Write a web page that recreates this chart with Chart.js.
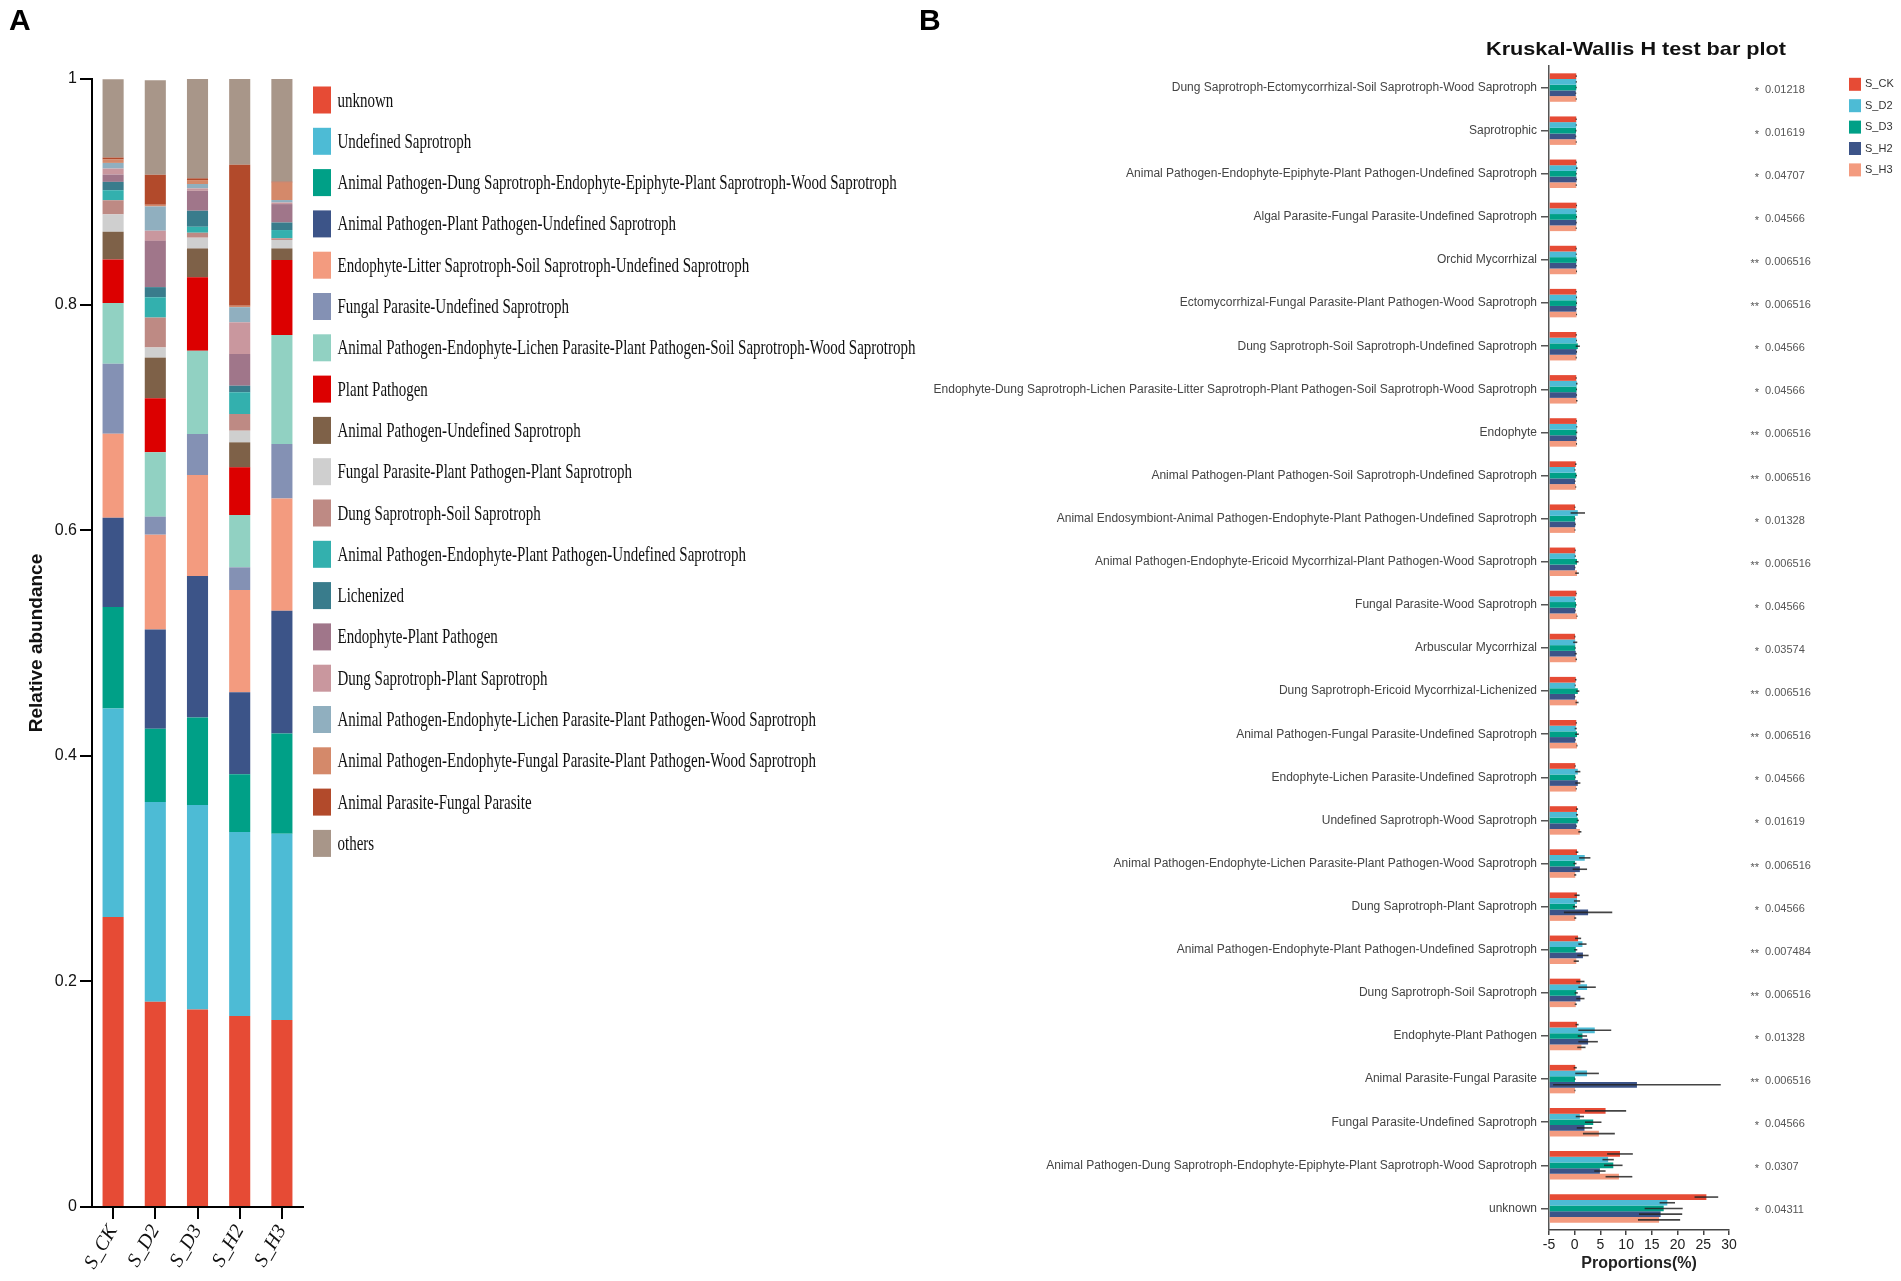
<!DOCTYPE html>
<html>
<head>
<meta charset="utf-8">
<script src="https://cdn.jsdelivr.net/npm/chart.js@4.4.1/dist/chart.umd.min.js"></script>
<style>
  html, body { margin: 0; padding: 0; background: #fff; }
  body { width: 1901px; height: 1281px; position: relative; overflow: hidden; }
  #boxA { position: absolute; left: 0; top: 0; width: 940px; height: 1281px; }
  #boxB { position: absolute; left: 900px; top: 0; width: 1001px; height: 1281px; }
  .tag { position: absolute; font: bold 30px "Liberation Sans", Arial, sans-serif; color: #000; }
</style>
</head>
<body>
<div id="boxA"><canvas id="chartA"></canvas></div>
<div id="boxB"><canvas id="chartB"></canvas></div>
<div class="tag" style="left:9px;top:3px">A</div>
<div class="tag" style="left:919px;top:3px">B</div>
<script>
// ---- panel A: relative abundance of guilds ----
const samples = ['S_CK', 'S_D2', 'S_D3', 'S_H2', 'S_H3'];

const guilds = [
  'unknown',
  'Undefined Saprotroph',
  'Animal Pathogen-Dung Saprotroph-Endophyte-Epiphyte-Plant Saprotroph-Wood Saprotroph',
  'Animal Pathogen-Plant Pathogen-Undefined Saprotroph',
  'Endophyte-Litter Saprotroph-Soil Saprotroph-Undefined Saprotroph',
  'Fungal Parasite-Undefined Saprotroph',
  'Animal Pathogen-Endophyte-Lichen Parasite-Plant Pathogen-Soil Saprotroph-Wood Saprotroph',
  'Plant Pathogen',
  'Animal Pathogen-Undefined Saprotroph',
  'Fungal Parasite-Plant Pathogen-Plant Saprotroph',
  'Dung Saprotroph-Soil Saprotroph',
  'Animal Pathogen-Endophyte-Plant Pathogen-Undefined Saprotroph',
  'Lichenized',
  'Endophyte-Plant Pathogen',
  'Dung Saprotroph-Plant Saprotroph',
  'Animal Pathogen-Endophyte-Lichen Parasite-Plant Pathogen-Wood Saprotroph',
  'Animal Pathogen-Endophyte-Fungal Parasite-Plant Pathogen-Wood Saprotroph',
  'Animal Parasite-Fungal Parasite',
  'others'
];

const guildColors = [
  '#E64B35', '#4DBBD5', '#00A087', '#3C5488', '#F39B7F', '#8491B4', '#91D1C2',
  '#DC0000', '#7E6148', '#CFCFCF', '#BE8A84', '#33B0AE', '#397C8C', '#A0768A',
  '#C9979E', '#90AFBF', '#D4896A', '#B24A2B', '#A89689'
];

// one value per guild, in guild order
const abundCK = [0.257, 0.185, 0.090, 0.079, 0.0745, 0.062, 0.054, 0.0385, 0.0246, 0.0154, 0.0125, 0.0089, 0.0074, 0.0065, 0.0053, 0.0050, 0.0030, 0.0018, 0.0694];
const abundD2 = [0.182, 0.177, 0.065, 0.088, 0.084, 0.016, 0.057, 0.048, 0.036, 0.009, 0.0265, 0.018, 0.009, 0.041, 0.009, 0.0215, 0.0015, 0.0266, 0.0839];
const abundD3 = [0.175, 0.1814, 0.0775, 0.1255, 0.0895, 0.0364, 0.0738, 0.0651, 0.0256, 0.0095, 0.0044, 0.0053, 0.0142, 0.0177, 0.0021, 0.0039, 0.0035, 0.0015, 0.0881];
const abundH2 = [0.1693, 0.1632, 0.0511, 0.0727, 0.0907, 0.0201, 0.0464, 0.0422, 0.0222, 0.0103, 0.0148, 0.0193, 0.0058, 0.0281, 0.0281, 0.0134, 0.0013, 0.1249, 0.0762];
const abundH3 = [0.1658, 0.1652, 0.0887, 0.1088, 0.0997, 0.0483, 0.0966, 0.0664, 0.0103, 0.0075, 0.0015, 0.0073, 0.0067, 0.0163, 0.0014, 0.0022, 0.0154, 0.0009, 0.091];
const abundBySample = [abundCK, abundD2, abundD3, abundH2, abundH3];

// ---- panel B: Kruskal-Wallis test ----
const kwFunctions = [
  'Dung Saprotroph-Ectomycorrhizal-Soil Saprotroph-Wood Saprotroph',
  'Saprotrophic',
  'Animal Pathogen-Endophyte-Epiphyte-Plant Pathogen-Undefined Saprotroph',
  'Algal Parasite-Fungal Parasite-Undefined Saprotroph',
  'Orchid Mycorrhizal',
  'Ectomycorrhizal-Fungal Parasite-Plant Pathogen-Wood Saprotroph',
  'Dung Saprotroph-Soil Saprotroph-Undefined Saprotroph',
  'Endophyte-Dung Saprotroph-Lichen Parasite-Litter Saprotroph-Plant Pathogen-Soil Saprotroph-Wood Saprotroph',
  'Endophyte',
  'Animal Pathogen-Plant Pathogen-Soil Saprotroph-Undefined Saprotroph',
  'Animal Endosymbiont-Animal Pathogen-Endophyte-Plant Pathogen-Undefined Saprotroph',
  'Animal Pathogen-Endophyte-Ericoid Mycorrhizal-Plant Pathogen-Wood Saprotroph',
  'Fungal Parasite-Wood Saprotroph',
  'Arbuscular Mycorrhizal',
  'Dung Saprotroph-Ericoid Mycorrhizal-Lichenized',
  'Animal Pathogen-Fungal Parasite-Undefined Saprotroph',
  'Endophyte-Lichen Parasite-Undefined Saprotroph',
  'Undefined Saprotroph-Wood Saprotroph',
  'Animal Pathogen-Endophyte-Lichen Parasite-Plant Pathogen-Wood Saprotroph',
  'Dung Saprotroph-Plant Saprotroph',
  'Animal Pathogen-Endophyte-Plant Pathogen-Undefined Saprotroph',
  'Dung Saprotroph-Soil Saprotroph',
  'Endophyte-Plant Pathogen',
  'Animal Parasite-Fungal Parasite',
  'Fungal Parasite-Undefined Saprotroph',
  'Animal Pathogen-Dung Saprotroph-Endophyte-Epiphyte-Plant Saprotroph-Wood Saprotroph',
  'unknown'
];

const pValues = ['0.01218', '0.01619', '0.04707', '0.04566', '0.006516', '0.006516', '0.04566', '0.04566', '0.006516',
  '0.006516', '0.01328', '0.006516', '0.04566', '0.03574', '0.006516', '0.006516', '0.04566', '0.01619',
  '0.006516', '0.04566', '0.007484', '0.006516', '0.01328', '0.006516', '0.04566', '0.0307', '0.04311'];
const pStars = pValues.map(p => (parseFloat(p) < 0.01 ? '**' : '*'));

const groups = ['S_CK', 'S_D2', 'S_D3', 'S_H2', 'S_H3'];
const groupColors = ['#E64B35', '#4DBBD5', '#00A087', '#3C5488', '#F39B7F'];

const meanCK = [0.3, 0.3, 0.3, 0.35, 0.3, 0.3, 0.3, 0.3, 0.35, 0.2, 0.05, 0.1, 0.3, 0.05, 0.2, 0.3, 0.1, 0.45, 0.45, 0.45, 0.65, 1.1, 0.45, 0.1, 6.0, 8.8, 25.6];
const meanD2 = [0.3, 0.3, 0.4, 0.3, 0.3, 0.35, 0.35, 0.4, 0.4, 0.05, 0.6, 0.1, 0.1, 0.1, 0.1, 0.2, 0.6, 0.45, 1.95, 0.45, 1.5, 2.4, 3.9, 2.4, 1.0, 6.5, 18.0];
const meanD3 = [0.3, 0.25, 0.3, 0.35, 0.35, 0.35, 0.6, 0.35, 0.35, 0.3, 0.05, 0.45, 0.25, 0.1, 0.6, 0.45, 0.1, 0.6, 0.05, 0.05, 0.2, 0.3, 1.5, 0.05, 3.6, 7.5, 17.3];
const meanH2 = [0.2, 0.2, 0.35, 0.3, 0.3, 0.3, 0.35, 0.35, 0.35, 0.05, 0.1, 0.05, 0.1, 0.2, 0.05, 0.1, 0.6, 0.3, 1.0, 2.6, 1.6, 1.1, 2.6, 12.1, 1.9, 4.9, 16.7];
const meanH3 = [0.3, 0.3, 0.3, 0.3, 0.35, 0.35, 0.3, 0.4, 0.35, 0.2, 0.05, 0.45, 0.45, 0.3, 0.45, 0.45, 0.3, 1.0, 0.1, 0.1, 0.3, 0.2, 1.3, 0.05, 4.7, 8.6, 16.4];

const sdCK = [0.1, 0.1, 0.1, 0.1, 0.1, 0.1, 0.1, 0.1, 0.1, 0.15, 0.1, 0.1, 0.1, 0.1, 0.15, 0.1, 0.1, 0.2, 0.25, 0.5, 0.6, 0.8, 0.3, 0.3, 4.0, 2.5, 2.3];
const sdD2 = [0.1, 0.1, 0.15, 0.1, 0.1, 0.1, 0.1, 0.15, 0.1, 0.1, 1.4, 0.1, 0.1, 0.4, 0.1, 0.2, 0.5, 0.2, 1.1, 0.6, 0.8, 1.7, 3.2, 2.3, 0.8, 1.1, 1.5];
const sdD3 = [0.1, 0.1, 0.1, 0.1, 0.1, 0.1, 0.4, 0.1, 0.15, 0.15, 0.1, 0.3, 0.1, 0.1, 0.3, 0.35, 0.1, 0.2, 0.3, 0.4, 0.3, 0.3, 0.9, 0.1, 1.6, 1.8, 3.7];
const sdH2 = [0.1, 0.1, 0.1, 0.1, 0.1, 0.1, 0.1, 0.1, 0.1, 0.1, 0.1, 0.1, 0.1, 0.2, 0.1, 0.1, 0.5, 0.1, 1.4, 4.7, 1.1, 0.8, 1.9, 16.3, 1.5, 1.1, 4.2];
const sdH3 = [0.1, 0.1, 0.1, 0.1, 0.1, 0.1, 0.1, 0.15, 0.1, 0.1, 0.1, 0.35, 0.1, 0.15, 0.3, 0.1, 0.1, 0.3, 0.2, 0.2, 0.5, 0.2, 0.8, 0.1, 3.1, 2.6, 4.1];

const meanByGroup = [meanCK, meanD2, meanD3, meanH2, meanH3];
const sdByGroup = [sdCK, sdD2, sdD3, sdH2, sdH3];

const sans = "'Liberation Sans', Arial, sans-serif";
const serif = "'Liberation Serif', 'Times New Roman', serif";

// legend of panel A, drawn narrow like the original figure
const guildLegend = {
  id: 'guildLegend',
  afterDraw(chart) {
    const { ctx, chartArea } = chart;
    ctx.save();
    ctx.font = '21px ' + serif;
    const longest = Math.max(...guilds.map(g => ctx.measureText(g).width));
    const squeeze = 578 / longest;
    const x0 = chartArea.right + 10;
    guilds.forEach((g, i) => {
      const cy = chartArea.top + 21 + i * 41.3;
      ctx.fillStyle = guildColors[i];
      ctx.fillRect(x0, cy - 13.5, 18, 27);
      ctx.save();
      ctx.translate(x0 + 24.5, cy + 1);
      ctx.scale(squeeze, 1);
      ctx.fillStyle = '#111';
      ctx.textBaseline = 'middle';
      ctx.fillText(g, 0, 0);
      ctx.restore();
    });
    ctx.restore();
  }
};

new Chart(document.getElementById('chartA'), {
  type: 'bar',
  data: {
    labels: samples,
    datasets: guilds.map((g, i) => ({
      label: g,
      data: abundBySample.map(s => s[i]),
      backgroundColor: guildColors[i],
      borderWidth: 0,
      barPercentage: 0.5,
      categoryPercentage: 1.0
    }))
  },
  options: {
    responsive: true,
    maintainAspectRatio: false,
    animation: false,
    layout: { padding: { top: 79, right: 637, left: 0, bottom: 0 } },
    plugins: { legend: { display: false }, tooltip: { enabled: false } },
    scales: {
      x: {
        stacked: true,
        grid: { drawOnChartArea: false, offset: false, tickLength: 12, color: '#000', lineWidth: 2 },
        border: { color: '#000', width: 2 },
        ticks: { minRotation: 60, maxRotation: 60, padding: 2, color: '#111', font: { family: serif, style: 'italic', size: 20 } },
        afterFit: s => { s.height = 74; }
      },
      y: {
        stacked: true,
        min: 0,
        max: 1,
        ticks: {
          stepSize: 0.2,
          padding: 3,
          color: '#111',
          font: { family: sans, size: 16 },
          callback: v => String(Math.round(v * 10) / 10)
        },
        grid: { drawOnChartArea: false, tickLength: 12, color: '#000', lineWidth: 2 },
        border: { color: '#000', width: 2 },
        title: { display: true, text: 'Relative abundance', color: '#111', font: { family: sans, weight: 'bold', size: 19 }, padding: { top: 25, bottom: 0 } },
        afterFit: s => { s.width = 92; }
      }
    }
  },
  plugins: [guildLegend]
});

// error bars for panel B
const errorBars = {
  id: 'errorBars',
  afterDatasetsDraw(chart) {
    const { ctx, scales: { x } } = chart;
    ctx.save();
    ctx.strokeStyle = 'rgba(35,35,35,0.85)';
    ctx.lineWidth = 1.6;
    chart.data.datasets.forEach((ds, di) => {
      chart.getDatasetMeta(di).data.forEach((bar, j) => {
        const m = ds.data[j];
        const e = ds.sd[j];
        const lo = x.getPixelForValue(Math.max(m - e, x.min));
        const hi = x.getPixelForValue(m + e);
        ctx.beginPath();
        ctx.moveTo(lo, bar.y);
        ctx.lineTo(hi, bar.y);
        ctx.stroke();
      });
    });
    ctx.restore();
  }
};

// title, p values and group legend for panel B
const kwNotes = {
  id: 'kwNotes',
  afterDraw(chart) {
    const { ctx, chartArea, scales: { y } } = chart;
    ctx.save();

    const title = 'Kruskal-Wallis H test bar plot';
    ctx.font = 'bold 19px ' + sans;
    const tw = ctx.measureText(title).width;
    ctx.save();
    ctx.translate((chartArea.left + chartArea.right) / 2 - 3, 50);
    ctx.scale(300 / tw, 1);
    ctx.fillStyle = '#111';
    ctx.textAlign = 'center';
    ctx.textBaseline = 'middle';
    ctx.fillText(title, 0, 0);
    ctx.restore();

    ctx.font = '11px ' + sans;
    ctx.fillStyle = '#555';
    ctx.textBaseline = 'middle';
    kwFunctions.forEach((f, i) => {
      const py = y.getPixelForValue(i) + 2;
      ctx.textAlign = 'right';
      ctx.fillText(pStars[i], chartArea.right + 30, py + 2);
      ctx.textAlign = 'left';
      ctx.fillText(pValues[i], chartArea.right + 36, py);
    });

    ctx.font = '11px ' + sans;
    ctx.textAlign = 'left';
    groups.forEach((g, i) => {
      const cy = 84.3 + i * 21.4;
      ctx.fillStyle = groupColors[i];
      ctx.fillRect(chartArea.right + 120, cy - 6.5, 12, 13);
      ctx.fillStyle = '#333';
      ctx.fillText(g, chartArea.right + 136, cy);
    });
    ctx.restore();
  }
};

new Chart(document.getElementById('chartB'), {
  type: 'bar',
  data: {
    labels: kwFunctions,
    datasets: groups.map((g, i) => ({
      label: g,
      data: meanByGroup[i],
      sd: sdByGroup[i],
      backgroundColor: groupColors[i],
      borderWidth: 0,
      base: -5,
      barPercentage: 1.0,
      categoryPercentage: 0.66
    }))
  },
  options: {
    indexAxis: 'y',
    responsive: true,
    maintainAspectRatio: false,
    animation: false,
    layout: { padding: { top: 66, right: 172, left: 0, bottom: 0 } },
    plugins: { legend: { display: false }, tooltip: { enabled: false } },
    scales: {
      x: {
        min: -5,
        max: 30,
        ticks: { stepSize: 5, padding: 2, color: '#222', font: { family: sans, size: 14 } },
        grid: { drawOnChartArea: false, tickLength: 5, color: '#444', lineWidth: 1.5 },
        border: { color: '#444', width: 1.5 },
        title: { display: true, text: 'Proportions(%)', color: '#222', font: { family: sans, weight: 'bold', size: 16 }, padding: { top: 2, bottom: 8 } },
        afterFit: s => { s.height = 51; }
      },
      y: {
        ticks: { autoSkip: false, padding: 4, color: '#444', font: { family: sans, size: 12 } },
        grid: { drawOnChartArea: false, offset: false, tickLength: 8, color: '#555', lineWidth: 1.5 },
        border: { color: '#555', width: 1.5 },
        afterFit: s => { s.width = 649; }
      }
    }
  },
  plugins: [errorBars, kwNotes]
});
</script>
</body>
</html>
